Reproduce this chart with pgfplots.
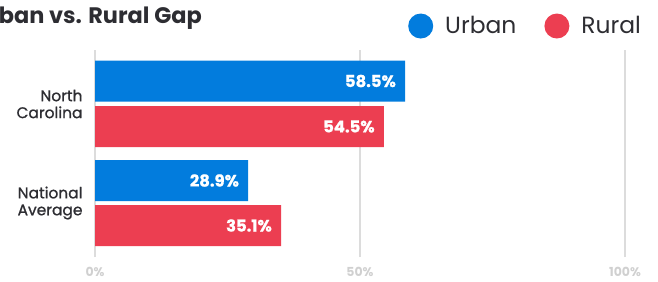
\documentclass[border=0pt]{standalone}
\usepackage{fontspec}
\setmainfont{Poppins}
\newfontfamily\popmed{Poppins}[FakeBold=1]
\newfontfamily\popheavy{Poppins Bold}[FakeBold=0.8]
\usepackage{pgfplots}
\pgfplotsset{compat=1.18}
\definecolor{urb}{RGB}{2,124,221}
\definecolor{rur}{RGB}{236,62,81}
\definecolor{gridc}{RGB}{220,220,220}
\definecolor{tickc}{RGB}{208,208,208}
\definecolor{txt}{RGB}{45,45,50}
\begin{document}
\begin{tikzpicture}[x=1bp,y=1bp]
\useasboundingbox (0,0) rectangle (658,-281);
\node[anchor=base east, font=\bfseries\fontsize{22.5}{22.5}\selectfont, text=txt, inner sep=0pt] at (202,-23) {Urban vs. Rural Gap};
\begin{axis}[
  at={(95bp,-257bp)}, anchor=south west,
  scale only axis, width=530bp, height=207bp,
  xmin=0, xmax=100, ymin=-257, ymax=-50,
  axis line style={draw=none},
  major tick length=0pt,
  /pgf/number format/assume math mode=true,
  xtick={0,50,100}, xticklabels={0\%,50\%,100\%},
  xmajorgrids, grid style={gridc, line width=1.2bp},
  xticklabel style={anchor=base, inner sep=0pt, yshift=-19.5bp, text=tickc, font=\bfseries\fontsize{12.5}{12.5}\selectfont},
  ytick={-104,-203},
  yticklabels={North\\Carolina, National\\Average},
  yticklabel style={align=right, anchor=east, xshift=-9bp, text=txt, font=\popmed\fontsize{15.5}{17}\selectfont},
  xbar, bar width=41, bar shift=0pt,
  nodes near coords={\pgfmathprintnumber[fixed,precision=1,fixed zerofill,assume math mode=true]{\pgfplotspointmeta}\%},
  point meta=x,
  nodes near coords style={anchor=east, xshift=-9bp, inner sep=0pt, text=white, font=\popheavy\fontsize{16.5}{16.5}\selectfont},
  legend columns=2,
  legend style={at={(axis description cs:0.5906,1.1159)}, anchor=west, draw=none, fill=none, inner sep=0pt,
    font=\fontsize{23.5}{23.5}\selectfont, text=txt,
    nodes={inner sep=0pt},
    /tikz/every odd column/.append style={column sep=12bp},
    /tikz/every even column/.append style={column sep=28bp}},
]
\addplot[fill=urb, draw=none, legend image code/.code={\fill[urb] (12.5bp,0bp) circle (12.5bp);}]
  coordinates {(58.5,-81) (28.9,-180.5)};
\addlegendentry{Urban}
\addplot[fill=rur, draw=none, legend image code/.code={\fill[rur] (12.5bp,0bp) circle (12.5bp);}]
  coordinates {(54.5,-126.5) (35.1,-225.5)};
\addlegendentry{Rural}
\end{axis}
\end{tikzpicture}
\end{document}
